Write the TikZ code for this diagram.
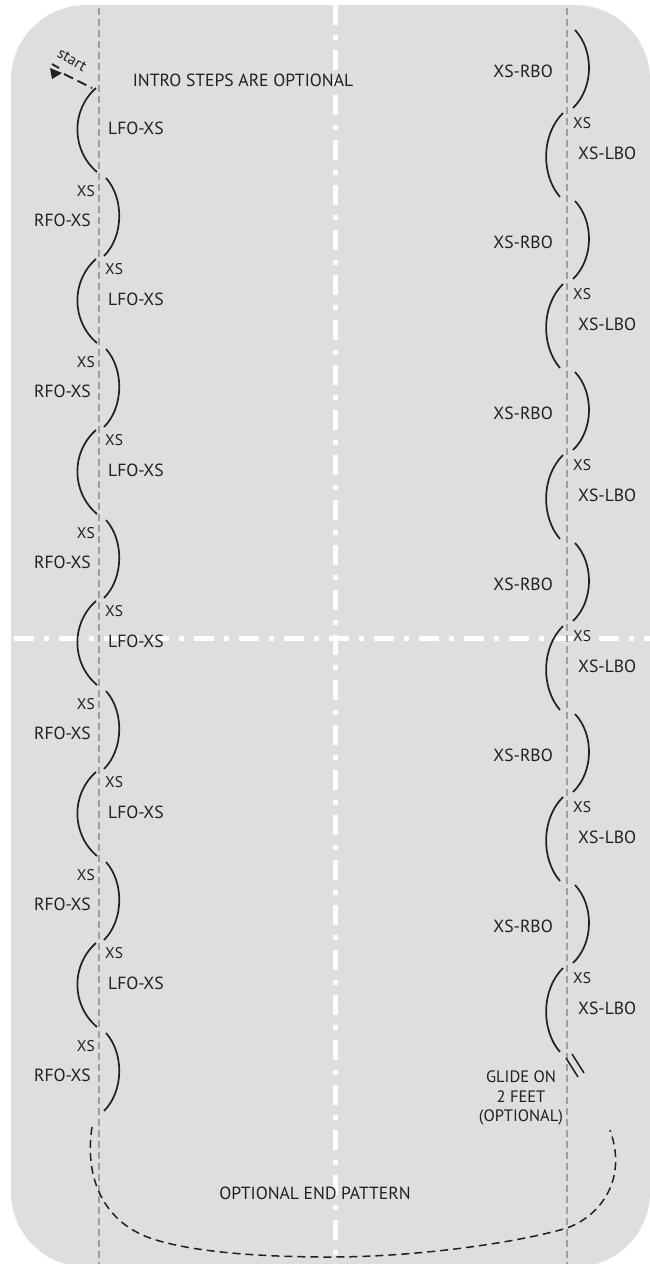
\documentclass[tikz,border=0pt]{standalone}
\usepackage{fontspec}
\setmainfont{PT Sans}
\usetikzlibrary{arrows.meta, positioning}
\definecolor{rinkgray}{RGB}{221,222,224}
\definecolor{lanegray}{RGB}{158,158,158}
\definecolor{inkdark}{RGB}{35,31,32}

\begin{document}
\begin{tikzpicture}[x=1pt, y=-1pt,
  lobe/.style={draw=inkdark, line width=1.7pt},
  lane/.style={draw=lanegray, line width=1.8pt, dash pattern=on 7pt off 4pt},
  axisline/.style={draw=white, line width=5pt, dash pattern=on 20pt off 10pt on 5pt off 10pt},
  steplabel/.style={text=inkdark, inner sep=0pt, font=\fontsize{17.6}{20}\selectfont},
  xslabel/.style={text=inkdark, inner sep=0pt, font=\fontsize{15.5}{17}\selectfont},
  glidelabel/.style={text=inkdark, inner sep=0pt, align=center, font=\fontsize{16.5}{19.5}\selectfont},
  endpath/.style={draw=inkdark, line width=1.5pt, dash pattern=on 8pt off 5pt}]

  \useasboundingbox (0,0) rectangle (650,1264);
  \fill[rinkgray, rounded corners=75pt] (11,5) rectangle (650,1267);

  % centre lines and lanes
  \draw[axisline] (335,5) -- (335,1264);
  \draw[axisline] (14,638) -- (650,638);
  \draw[lane] (99,8) -- (99,1264);
  \draw[lane] (567,8) -- (567,1264);

  % start
  \node[xslabel, rotate=-30] (start) at (72,60) {start};
  \fill[inkdark] (50,68) -- (52,79) -- (62,73) -- cycle;
  \draw[inkdark, line width=1.8pt] (52,64) -- (59,68);
  \draw[inkdark, line width=1.8pt, dash pattern=on 10pt off 5pt] (64,74) -- (92,88);
  \node[steplabel] (intro) at (243,80) {INTRO STEPS ARE OPTIONAL};

  % left side: forward outside lobes
  \foreach \m in {0,...,5}{
    \pgfmathsetmacro{\lt}{88+171*\m}
    \pgfmathsetmacro{\rt}{178+171*\m}
    \draw[lobe] (96,\lt) .. controls (71,\lt+22) and (71,\lt+62) .. (97,\lt+84);
    \draw[lobe] (106,\rt) .. controls (124,\rt+20) and (124,\rt+58) .. (104,\rt+78);
    \node[steplabel, anchor=west] (lfo\m) at (108,\lt+40) {LFO-XS};
    \node[steplabel, anchor=east] (rfo\m) at (91,\rt+42) {RFO-XS};
    \node[xslabel, anchor=east] (xsr\m) at (95,\rt+13) {XS};
  }
  \foreach \m in {1,...,5}{
    \pgfmathsetmacro{\lt}{88+171*\m}
    \node[xslabel, anchor=west] (xsl\m) at (105,\lt+10) {XS};
  }

  % right side: backward outside lobes
  \foreach \m in {0,...,5}{
    \pgfmathsetmacro{\bt}{30+171*\m}
    \pgfmathsetmacro{\ct}{113+171*\m}
    \draw[lobe] (575,\bt) .. controls (594,\bt+20) and (594,\bt+58) .. (573,\bt+78);
    \draw[lobe] (563,\ct) .. controls (541,\ct+22) and (541,\ct+62) .. (560,\ct+84);
    \node[steplabel, anchor=east] (rbo\m) at (553,\bt+41) {XS-RBO};
    \node[steplabel, anchor=west] (lbo\m) at (578,\ct+40) {XS-LBO};
    \node[xslabel, anchor=west] (xsb\m) at (573,\ct+10) {XS};
  }

  % glide and end
  \draw[inkdark, line width=1.5pt] (566,1058) -- (578,1077);
  \draw[inkdark, line width=1.5pt] (572,1054) -- (584,1073);
  \node[glidelabel] (glide) at (521,1098) {GLIDE ON\\2 FEET\\(OPTIONAL)};

  \draw[endpath] (92,1127) .. controls (84,1180) and (105,1222) .. (150,1238)
    .. controls (190,1252) and (260,1257) .. (330,1257)
    .. controls (420,1257) and (520,1242) .. (567,1228)
    .. controls (600,1216) and (628,1180) .. (610,1130);
  \node[steplabel] (endlbl) at (315,1193) {OPTIONAL END PATTERN};
\end{tikzpicture}
\end{document}
